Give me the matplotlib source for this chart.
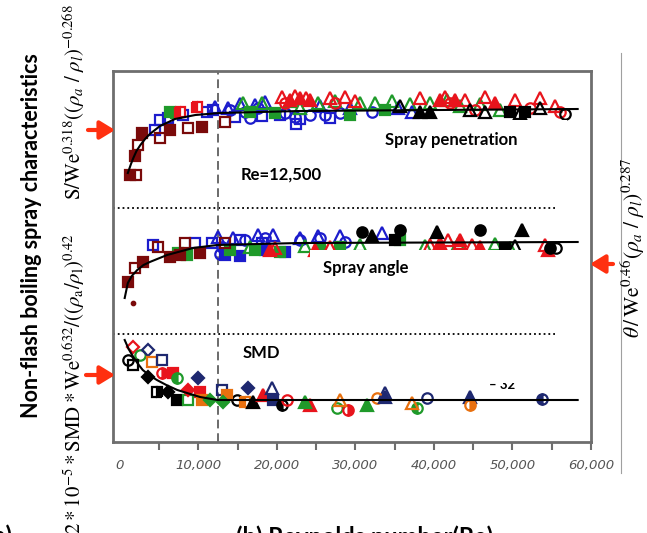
import numpy as np
import matplotlib.pyplot as plt
from matplotlib.patches import Rectangle
from matplotlib.lines import Line2D
from matplotlib import ticker as tick

plt.rcParams['mathtext.fontset'] = 'stix'

# x = Reynolds number, y = normalised characteristic (three stacked bands)
# ---- spray penetration band ----
pen_fit_re = [1000, 1400, 1700, 2100, 2600, 3200, 3800, 5100, 7000, 9600, 12700, 22900, 58300]
pen_fit_y = [2.69, 2.78, 2.84, 2.91, 2.97, 3.03, 3.08, 3.16, 3.23, 3.27, 3.29, 3.31, 3.33]

pen_darkred_fill = ([1300, 1900, 2800, 6400, 10400], [2.67, 2.86, 3.09, 3.12, 3.15])
pen_darkred_open = ([2000, 2300, 5100, 8700, 13400], [2.67, 2.97, 3.04, 3.14, 3.20])
pen_red_sq = ([7600, 9800], [3.30, 3.35])
pen_blue_sq = ([4500, 5100, 6100, 8000, 11100, 11800, 14600, 18100, 22900, 22400, 26800, 20400],
               [3.12, 3.22, 3.24, 3.27, 3.30, 3.32, 3.25, 3.26, 3.23, 3.18, 3.24, 3.27])
pen_blue_circle = ([14000, 15900, 17600, 21000, 24200, 26100, 28000, 32100, 16600, 22300],
                   [3.32, 3.30, 3.34, 3.29, 3.27, 3.27, 3.29, 3.30, 3.24, 3.25])
pen_blue_tri = ([12100, 15300, 17200, 18500, 25500, 29300, 35400, 37200, 13800],
                [3.35, 3.38, 3.37, 3.40, 3.36, 3.34, 3.34, 3.30, 3.34])
pen_green_tri = ([15700, 18100, 21700, 22900, 25200, 27400, 30600, 32500, 34700, 36900, 39500, 43300, 45900, 48400, 41700],
                 [3.39, 3.39, 3.41, 3.34, 3.39, 3.41, 3.39, 3.39, 3.41, 3.38, 3.39, 3.36, 3.38, 3.32, 3.42])
pen_green_fill = ([6400, 7100, 16600, 19700, 29300, 33800], [3.30, 3.29, 3.30, 3.29, 3.27, 3.32])
pen_red_tri = ([20600, 22300, 23700, 26800, 28700, 29900, 38200, 41400, 44000, 46500, 50300, 53500, 55400],
               [3.45, 3.46, 3.44, 3.44, 3.45, 3.41, 3.44, 3.45, 3.42, 3.45, 3.42, 3.44, 3.36])
pen_red_fill = ([21700, 24200, 40800, 42700, 47800, 22900], [3.42, 3.42, 3.42, 3.42, 3.39, 3.44])
pen_red_circle = ([21000, 27400, 42000, 45200, 56100, 52200], [3.39, 3.39, 3.39, 3.32, 3.30, 3.34])
pen_black_tri = ([35700, 46500, 51000, 53500, 44600], [3.36, 3.30, 3.29, 3.34, 3.32])
pen_black_fill_tri = ([38200, 39500], [3.30, 3.30])
pen_black_fill_sq = ([49700, 51600], [3.30, 3.30])
pen_black_circle = ([56700], [3.28])

# ---- spray angle band ----
ang_fit_re = [600, 1000, 1500, 2200, 3000, 3800, 6000, 9300, 12400, 22900, 58300]
ang_fit_y = [1.44, 1.59, 1.66, 1.72, 1.77, 1.80, 1.87, 1.94, 1.97, 1.99, 2.00]

ang_darkred_fill = ([1000, 2900, 6400, 7600, 10200], [1.60, 1.80, 1.85, 1.87, 1.89])
ang_darkred_open = ([1900, 4800, 8300, 13400], [1.74, 1.95, 1.99, 1.99])
ang_dot = ([1700], [1.39])
ang_blue_sq = ([4200, 9600, 11700, 15300, 18100], [1.97, 1.99, 1.99, 2.02, 1.99])
ang_blue_circle = ([13000, 15900, 18500, 22900, 25500, 28700, 12800], [1.95, 2.02, 2.04, 2.02, 2.04, 2.00, 1.88])
ang_blue_fill = ([13400, 15300, 18500, 21000], [1.87, 1.86, 1.92, 1.90])
ang_blue_tri = ([12500, 14400, 17600, 19500, 22900, 25200, 28000, 33400],
                [2.05, 2.04, 2.07, 2.07, 2.04, 2.06, 2.06, 2.09])
ang_green_fill = ([7400, 8500, 14000, 17200, 20400, 25500, 28000, 35700],
                  [1.89, 1.87, 1.92, 1.92, 1.90, 1.92, 1.95, 2.02])
ang_green_tri = ([16600, 23600, 30600, 38900, 43100, 47800, 49700], [1.95, 1.96, 1.97, 1.96, 1.98, 1.98, 1.94])
ang_red_tri = ([19700, 26800, 39500, 41800, 43300, 44800, 54100], [1.94, 1.95, 1.97, 2.02, 1.99, 1.97, 1.97])
ang_red_fill = ([19100, 24800, 40800, 43300, 45900, 54500], [1.92, 1.92, 1.99, 2.02, 1.95, 1.92])
ang_black_fill_circle = ([35700, 45900, 30800, 54800], [2.12, 2.12, 2.10, 1.94])
ang_black_fill_tri = ([40400, 51200, 32100], [2.10, 2.12, 2.06])
ang_black_tri = ([50300], [1.96])
ang_black_circle = ([55500], [1.94])
ang_black_fill_sq = ([49000, 35000], [1.94, 2.02])

# ---- SMD band ----
smd_fit_re = [600, 1100, 1700, 2300, 2900, 3700, 4700, 5900, 7300, 10200, 12400, 58300]
smd_fit_y = [1.02, 0.93, 0.85, 0.78, 0.72, 0.67, 0.62, 0.57, 0.52, 0.45, 0.42, 0.42]

smd_black_circle = ([1000, 14900], [0.82, 0.42])
smd_red_open_dia = ([1700], [0.95])
smd_green_circle = ([2500, 27600], [0.87, 0.34])
smd_black_open_sq = ([1700], [0.77])
smd_navy_open_dia = ([3600], [0.92])
smd_orange_open_sq = ([4100], [0.80])
smd_navy_open_sq = ([5400, 13000], [0.82, 0.52])
smd_black_fill_dia = ([3600, 6100], [0.65, 0.50])
smd_red_half_circle = ([5400, 29000], [0.69, 0.32])
smd_red_fill_sq = ([6800, 10200], [0.69, 0.50])
smd_green_half_circle = ([7300, 37800], [0.64, 0.34])
smd_black_half_sq = ([4700], [0.50])
smd_black_fill_sq = ([7300], [0.42])
smd_green_open_sq = ([8700], [0.42])
smd_red_fill_dia = ([8700], [0.52])
smd_navy_fill_dia = ([9900, 16300], [0.64, 0.54])
smd_orange_fill_sq = ([10400, 13600], [0.42, 0.47])
smd_green_fill_dia = ([11500, 13100], [0.42, 0.40])
smd_orange_half_sq = ([15900], [0.40])
smd_black_fill_tri = ([16900], [0.40])
smd_red_fill_tri = ([18200, 24200], [0.47, 0.37])
smd_navy_open_tri = ([19400, 33800], [0.54, 0.49])
smd_navy_fill_sq = ([19500], [0.42])
smd_black_half_circle = ([20600], [0.37])
smd_red_circle = ([21300], [0.42])
smd_green_fill_tri = ([23600, 31500], [0.40, 0.37])
smd_orange_open_tri = ([28000, 37200], [0.42, 0.39])
smd_orange_circle = ([32700], [0.44])
smd_navy_fill_tri = ([33800, 44600], [0.45, 0.45])
smd_navy_circle = ([39100], [0.44])
smd_orange_half_circle = ([44600], [0.37])
smd_navy_half_circle = ([53800], [0.43])

re_ticks = [0, 10000, 20000, 30000, 40000, 50000, 60000]
band_lines = [1.08, 2.34]
re_crit = 12500

DKRED = '#7a0a0a'
RED = '#e8141c'
BLUE = '#1c1ccc'
GREEN = '#1f9a2a'
ORANGE = '#e8700f'
NAVY = '#1e2870'
BLACK = '#000000'
ARROW = '#ff3010'


def pts(ax, data, marker, color, fill='none', ms=7.5):
	x, y = data
	kw = dict(ls='none', marker=marker, ms=ms, mec=color, mew=1.6, zorder=2)
	if fill == 'full':
		kw.update(mfc=color)
	elif fill == 'none':
		kw.update(mfc='none')
	else:
		kw.update(mfc=color, fillstyle=fill, markerfacecoloralt='white')
	ax.plot(x, y, **kw)


fig = plt.figure(figsize=(6.47, 5.33), dpi=100)
ax = fig.add_axes([113/647, 91/533, 478/647, 371/533])
ax.set_xlim(-890, 60000)
ax.set_ylim(0, 3.71)

# penetration
pts(ax, pen_blue_sq, 's', BLUE)
pts(ax, pen_blue_circle, 'o', BLUE)
pts(ax, pen_blue_tri, '^', BLUE, ms=8)
pts(ax, pen_green_fill, 's', GREEN, 'full')
pts(ax, pen_green_tri, '^', GREEN, ms=8)
pts(ax, pen_red_tri, '^', RED, ms=8)
pts(ax, pen_red_fill, '^', RED, 'full', ms=8)
pts(ax, pen_red_circle, 'o', RED)
pts(ax, pen_black_tri, '^', BLACK, ms=8)
pts(ax, pen_black_fill_tri, '^', BLACK, 'full', ms=8)
pts(ax, pen_black_fill_sq, 's', BLACK, 'full')
pts(ax, pen_black_circle, 'o', BLACK)
pts(ax, pen_darkred_fill, 's', DKRED, 'full')
pts(ax, pen_darkred_open, 's', DKRED)
pts(ax, pen_red_sq, 's', RED, 'left')
ax.plot(pen_fit_re, pen_fit_y, color='k', lw=1.5, zorder=5)

# angle
pts(ax, ang_blue_sq, 's', BLUE)
pts(ax, ang_blue_circle, 'o', BLUE)
pts(ax, ang_blue_fill, 's', BLUE, 'full')
pts(ax, ang_blue_tri, '^', BLUE, ms=8)
pts(ax, ang_green_fill, 's', GREEN, 'full')
pts(ax, ang_green_tri, '^', GREEN, ms=8)
pts(ax, ang_red_tri, '^', RED, ms=8)
pts(ax, ang_red_fill, '^', RED, 'full', ms=8)
pts(ax, ang_black_fill_circle, 'o', BLACK, 'full')
pts(ax, ang_black_fill_tri, '^', BLACK, 'full', ms=8)
pts(ax, ang_black_tri, '^', BLACK, ms=8)
pts(ax, ang_black_circle, 'o', BLACK)
pts(ax, ang_black_fill_sq, 's', BLACK, 'full')
pts(ax, ang_darkred_fill, 's', DKRED, 'full')
pts(ax, ang_darkred_open, 's', DKRED)
pts(ax, ang_dot, 'o', DKRED, 'full', ms=2.5)
ax.plot(ang_fit_re, ang_fit_y, color='k', lw=1.5, zorder=5)

# SMD
pts(ax, smd_black_circle, 'o', BLACK)
pts(ax, smd_red_open_dia, 'D', RED, ms=6.5)
pts(ax, smd_green_circle, 'o', GREEN)
pts(ax, smd_black_open_sq, 's', BLACK)
pts(ax, smd_navy_open_dia, 'D', NAVY, ms=6.5)
pts(ax, smd_orange_open_sq, 's', ORANGE)
pts(ax, smd_navy_open_sq, 's', NAVY)
pts(ax, smd_black_fill_dia, 'D', BLACK, 'full', ms=6.5)
pts(ax, smd_red_half_circle, 'o', RED, 'right')
pts(ax, smd_red_fill_sq, 's', RED, 'full')
pts(ax, smd_green_half_circle, 'o', GREEN, 'left')
pts(ax, smd_black_half_sq, 's', BLACK, 'right')
pts(ax, smd_black_fill_sq, 's', BLACK, 'full')
pts(ax, smd_green_open_sq, 's', GREEN)
pts(ax, smd_red_fill_dia, 'D', RED, 'full', ms=6.5)
pts(ax, smd_navy_fill_dia, 'D', NAVY, 'full', ms=6.5)
pts(ax, smd_orange_fill_sq, 's', ORANGE, 'full')
pts(ax, smd_green_fill_dia, 'D', GREEN, 'full', ms=6.5)
pts(ax, smd_orange_half_sq, 's', ORANGE, 'left')
pts(ax, smd_black_fill_tri, '^', BLACK, 'full', ms=8)
pts(ax, smd_red_fill_tri, '^', RED, 'full', ms=8)
pts(ax, smd_navy_open_tri, '^', NAVY, ms=8)
pts(ax, smd_navy_fill_sq, 's', NAVY, 'full')
pts(ax, smd_black_half_circle, 'o', BLACK, 'left')
pts(ax, smd_red_circle, 'o', RED)
pts(ax, smd_green_fill_tri, '^', GREEN, 'full', ms=8)
pts(ax, smd_orange_open_tri, '^', ORANGE, ms=8)
pts(ax, smd_orange_circle, 'o', ORANGE)
pts(ax, smd_navy_fill_tri, '^', NAVY, 'full', ms=8)
pts(ax, smd_navy_circle, 'o', NAVY)
pts(ax, smd_orange_half_circle, 'o', ORANGE, 'right')
pts(ax, smd_navy_half_circle, 'o', NAVY, 'left')
ax.plot(smd_fit_re, smd_fit_y, color='k', lw=1.5, zorder=5)

# band separators and critical Re
for yb in band_lines:
	ax.plot([-890, 55400], [yb, yb], color='k', ls=':', lw=1.3, zorder=1)
ax.axvline(re_crit, color='#6a6a6a', lw=1.4, ls=(0, (4.5, 2.5)), zorder=1)

# white label boxes laid over the scatter
ax.add_patch(Rectangle((30960, 2.75), 26000, 0.47, fc='white', ec='none', zorder=3))
ax.add_patch(Rectangle((24200, 1.52), 28900, 0.40, fc='white', ec='none', zorder=3))

lab = dict(family='Lato', weight='bold', fontsize=12, ha='center', va='center', zorder=6)
ax.text(42200, 3.02, 'Spray penetration', **lab)
ax.text(20500, 2.67, 'Re=12,500', **lab)
ax.text(31300, 1.74, 'Spray angle', **lab)
ax.text(18000, 0.89, 'SMD', **lab)
ax.text(48700, 0.57, '\u2013 32', family='Lato', weight='bold', fontsize=9.5, ha='center', va='center', zorder=6)
ax.add_patch(Rectangle((46000, 0.59), 6000, 0.12, fc='white', ec='none', zorder=7))

# frame and Re axis
for sp in ax.spines.values():
	sp.set_color('#6e6e6e')
	sp.set_linewidth(2)
ax.set_yticks([])
ax.xaxis.set_major_locator(tick.FixedLocator(np.arange(0, 60001, 5000)))
ax.xaxis.set_major_formatter(tick.FuncFormatter(lambda v, p: '{:,.0f}'.format(v) if v in re_ticks else ''))
ax.tick_params(axis='x', direction='out', length=6, width=1.5, color='#6e6e6e', pad=6,
               labelsize=9.5, labelcolor='#555555')
for lbl in ax.get_xticklabels():
	lbl.set_style('italic')
ax.xaxis.get_major_ticks()[0].tick1line.set_visible(False)

# axis titles
fig.text(32/647, 1 - 236/533, 'Non-flash boiling spray characteristics', family='Lato', weight='bold',
         fontsize=15.5, rotation=90, ha='center', va='center')
fig.text(74/647, 1 - 200/533, r'$\mathrm{S/We}^{0.318}((\rho_a\ /\ \rho_l)^{-0.268}$', fontsize=15,
         rotation=90, ha='center', va='bottom')
fig.text(74/647, 1 - 233/533, r'$2*10^{-5}*\mathrm{SMD}*\mathrm{We}^{0.632}/((\rho_\mathrm{a}/\rho_\mathrm{l})^{0.42}$',
         fontsize=15, rotation=90, ha='center', va='top')
fig.text(633/647, 1 - 248/533, r'$\theta\,/\,\mathrm{We}^{0.46}(\rho_a\ /\ \rho_l)^{0.287}$', fontsize=15.5,
         rotation=90, ha='center', va='center')
fig.text(365/647, 1 - 525/533, '(b) Reynolds number(Re)', family='Lato', weight='bold', fontsize=17,
         ha='center', va='top')
fig.text(12/647, 1 - 525/533, '(a)', family='Lato', weight='bold', fontsize=17, ha='right', va='top')

fig.add_artist(Line2D([621/647, 621/647], [1 - 53/533, 1 - 473/533], color='#a0a0a0', lw=0.8))

# red pointer arrows
arr = dict(arrowstyle='-|>,head_length=0.9,head_width=0.55', color=ARROW, lw=3, shrinkA=0, shrinkB=0)
for tail, head in [((88, 130), (115, 130)), ((86, 375), (115, 375)), ((613, 264), (590, 264))]:
	ax.annotate('', xy=(head[0], 533 - head[1]), xytext=(tail[0], 533 - tail[1]),
	            xycoords='figure pixels', textcoords='figure pixels', arrowprops=arr, annotation_clip=False)

plt.savefig('out.png', dpi=100)
